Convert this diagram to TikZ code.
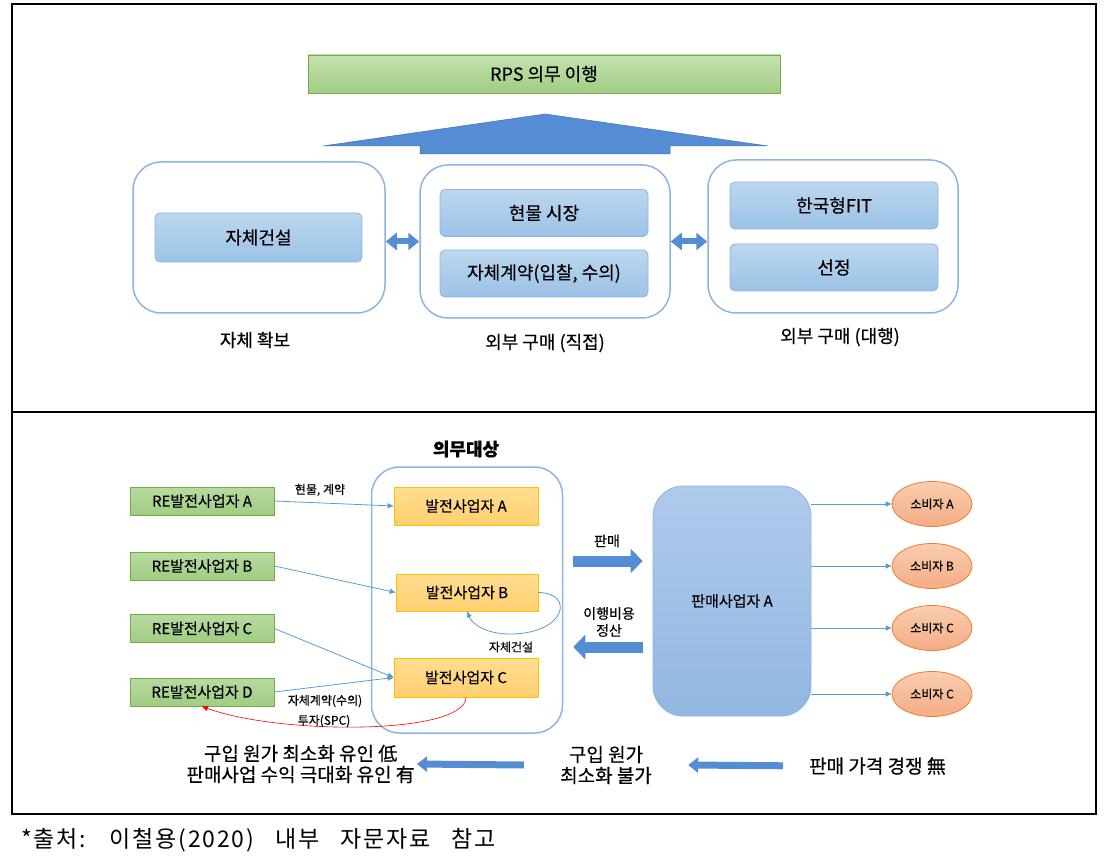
\documentclass[tikz,border=0pt]{standalone}
\usepackage{fontspec}
\setmainfont[FakeBold=0.4]{Noto Sans CJK KR}
\newfontfamily\capfont[WordSpace=3, LetterSpace=8]{Noto Sans CJK KR}
\usepackage{tikz}
\usetikzlibrary{arrows.meta, shapes.geometric}

\definecolor{arrowblue}{RGB}{84,141,212}
\definecolor{lineblue}{RGB}{91,155,213}
\definecolor{wedge}{RGB}{141,180,226}
\definecolor{itop}{RGB}{189,215,238}
\definecolor{ibot}{RGB}{155,194,230}
\definecolor{iedge}{RGB}{143,180,227}
\definecolor{gtop}{RGB}{184,218,160}
\definecolor{gbot}{RGB}{160,205,130}
\definecolor{gedge}{RGB}{112,173,71}
\definecolor{otop}{RGB}{255,221,145}
\definecolor{obot}{RGB}{255,208,112}
\definecolor{oedge}{RGB}{255,192,0}
\definecolor{stop}{RGB}{176,202,235}
\definecolor{sbot}{RGB}{146,183,226}
\definecolor{ctop}{RGB}{249,205,176}
\definecolor{cbot}{RGB}{244,172,132}
\definecolor{cedge}{RGB}{237,125,49}

\begin{document}
\begin{tikzpicture}[x=1pt, y=-1pt,
  wbox/.style={draw=wedge, line width=1.5pt, fill=white, rounded corners=28pt, inner sep=0},
  ibox/.style={draw=iedge, line width=0.8pt, top color=itop, bottom color=ibot, rounded corners=5pt,
    inner sep=0, minimum width=208pt, minimum height=47pt, font=\fontsize{18}{21}\selectfont},
  rebox/.style={draw=gedge, line width=0.8pt, top color=gtop, bottom color=gbot, inner sep=0,
    minimum width=144pt, minimum height=28pt, font=\fontsize{15}{18}\selectfont},
  genbox/.style={draw=oedge, line width=0.8pt, top color=otop, bottom color=obot, inner sep=0,
    minimum width=144pt, minimum height=38pt, font=\fontsize{15}{18}\selectfont},
  cons/.style={ellipse, draw=cedge, line width=0.8pt, top color=ctop, bottom color=cbot, inner sep=0,
    minimum width=80pt, minimum height=45pt, font=\fontsize{12}{14}\selectfont},
  conn/.style={draw=lineblue, line width=0.8pt, -{Triangle[length=6pt,width=5pt]}},
  dblarrow/.style={draw=arrowblue, line width=6pt, {Triangle[length=11pt,width=17pt]}-{Triangle[length=11pt,width=17pt]}},
  bigarrow/.style={draw=arrowblue, line width=11pt, -{Triangle[length=12pt,width=24pt]}},
  costarrow/.style={draw=arrowblue, line width=7pt, -{Triangle[length=10pt,width=15pt]}},
  lbl/.style={inner sep=0, font=\fontsize{18}{21}\selectfont},
  small/.style={inner sep=0, font=\fontsize{12}{14}\selectfont}
]
\useasboundingbox (0,0) rectangle (1104,861);

\draw [line width=1.2pt] (12,4) rectangle (1096,814);
\draw [line width=1.2pt] (12,412) -- (1096,412);

% upper part
\node [draw=gedge, line width=0.8pt, top color=gtop!80!white, bottom color=gbot, inner sep=0,
  minimum width=472pt, minimum height=38pt, font=\fontsize{18}{21}\selectfont] (rps) at (544,74) {RPS 의무 이행};
\filldraw [fill=arrowblue, draw=arrowblue!80!black, line width=0.5pt]
  (323,146) -- (545,114) -- (768,146) -- (670,146) -- (670,154) -- (420,154) -- (420,146) -- cycle;

\node [wbox, minimum width=252pt, minimum height=151pt] (own) at (259,237.5) {};
\node [wbox, minimum width=250pt, minimum height=153pt] (direct) at (545,241.5) {};
\node [wbox, minimum width=250pt, minimum height=153pt] (agent) at (833,236.5) {};

\node [ibox, minimum width=207pt, minimum height=49pt] (build) at (258.5,237.5) {자체건설};
\node [ibox] (spot) at (544,213) {현물 시장};
\node [ibox] (contract) at (544,273.5) {자체계약(입찰, 수의)};
\node [ibox] (kfit) at (834,205.5) {한국형FIT};
\node [ibox] (pick) at (834,267.5) {선정};

\draw [dblarrow] (own.east |- direct) -- (direct.west);
\draw [dblarrow] (direct.east) -- (agent.west |- direct);

\node [lbl] (lown) at (255,340) {자체 확보};
\node [lbl] (ldirect) at (545,343) {외부 구매 (직접)};
\node [lbl] (lagent) at (840,337) {외부 구매 (대행)};

% lower part
\node [inner sep=0, font=\fontsize{18}{21}\selectfont\bfseries] (oblt) at (466,449) {의무대상};
\node [draw=wedge, line width=1.5pt, rounded corners=28pt, inner sep=0,
  minimum width=191pt, minimum height=266pt] (obl) at (467,600) {};

\node [genbox] (gA) at (466,506) {발전사업자 A};
\node [genbox, minimum width=142pt, minimum height=37pt] (gB) at (467,592.5) {발전사업자 B};
\node [genbox, minimum height=39pt] (gC) at (466,677.5) {발전사업자 C};

\node [rebox] (rA) at (202,501) {RE발전사업자 A};
\node [rebox] (rB) at (202,566) {RE발전사업자 B};
\node [rebox] (rC) at (202,628.5) {RE발전사업자 C};
\node [rebox] (rD) at (202,692) {RE발전사업자 D};

\draw [conn] (rA.east) -- (gA.west);
\draw [conn] (rB.east) -- (gB.west);
\draw [conn] (rC.east) -- (gC.west);
\draw [conn] (rD.east) -- (gC.west);
\draw [conn] (gB.east) .. controls (575,593) and (566,634) .. (510,634)
  .. controls (486,634) and (472,624) .. (gB.south);
\draw [draw=red, line width=0.6pt, -{Triangle[length=6pt,width=5pt]}]
  (gC.south) .. controls (465,735) and (280,735) .. (rD.south);

\node [small] (lspot) at (320,490) {현물, 계약};
\node [small] (lbuild) at (511,647) {자체건설};
\node [small] (lcontr) at (325,701) {자체계약(수의)};
\node [small] (lspc) at (324,721) {투자(SPC)};

\node [draw=wedge, line width=0.8pt, top color=stop, bottom color=sbot, rounded corners=30pt, inner sep=0,
  minimum width=158pt, minimum height=230pt, font=\fontsize{15}{18}\selectfont] (sell) at (732,601) {판매사업자 A};

\draw [bigarrow] ([xshift=10pt, yshift=39pt]obl.east) -- ([xshift=-10pt]sell.west |- 0,561);
\draw [bigarrow] ([xshift=-10pt]sell.west |- 0,647) -- ([xshift=10pt, yshift=-47pt]obl.east);
\node [inner sep=0, font=\fontsize{14}{17}\selectfont] (lsale) at (607,541) {판매};
\node [inner sep=0, align=center, font=\fontsize{14}{17}\selectfont] (lpay) at (609,622) {이행비용\\정산};

\node [cons] (cA) at (932,504) {소비자 A};
\node [cons] (cB) at (932,566) {소비자 B};
\node [cons] (cC) at (932,628) {소비자 C};
\node [cons] (cD) at (932,694) {소비자 C};

\draw [conn] (sell.east |- cA) -- (cA.west);
\draw [conn] (sell.east |- cB) -- (cB.west);
\draw [conn] (sell.east |- cC) -- (cC.west);
\draw [conn] (sell.east |- cD) -- (cD.west);

\node [inner sep=0, anchor=east, align=center, font=\fontsize{19}{21}\selectfont] (gain) at (415,764)
  {구입 원가 최소화 유인 低\\판매사업 수익 극대화 유인 有};
\node [inner sep=0, align=center, minimum width=164pt, font=\fontsize{19}{21}\selectfont] (nomin) at (606,765)
  {구입 원가\\최소화 불가};
\node [inner sep=0, anchor=west, font=\fontsize{19}{21}\selectfont] (nocomp) at (809,766) {판매 가격 경쟁 無};

\draw [costarrow, shorten >=2pt] (nomin.west) -- (gain.east);
\draw [costarrow, shorten <=26pt] (nocomp.west) -- (nomin.east);

\node [inner sep=0, anchor=west, font=\capfont\fontsize{23}{26}\selectfont] (src) at (21,840)
  {*출처: 이철용(2020) 내부 자문자료 참고};
\end{tikzpicture}
\end{document}
